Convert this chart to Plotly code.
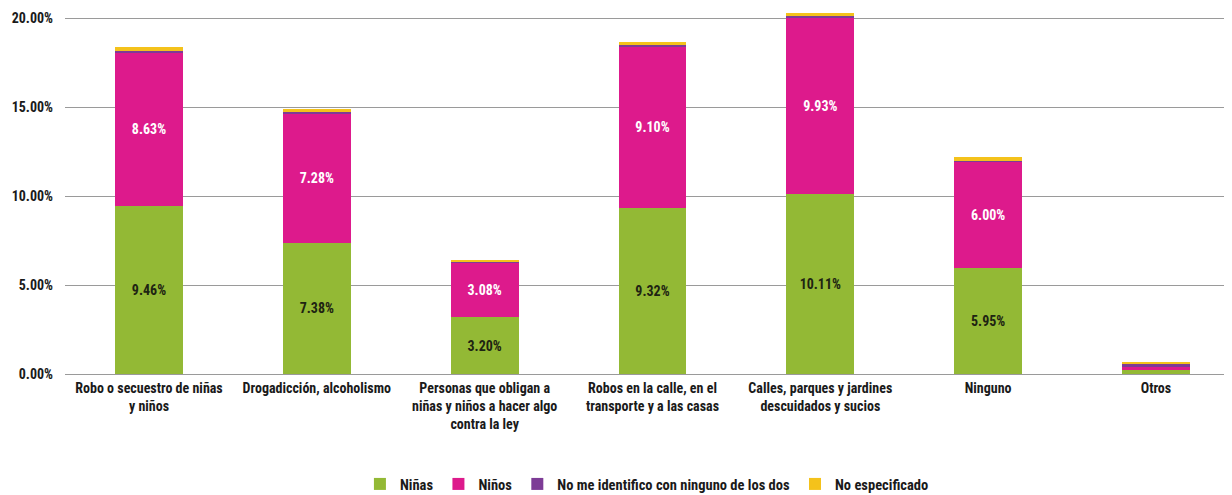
import plotly.graph_objects as go

categories = [
    "Robo o secuestro de niñas<br>y niños",
    "Drogadicción, alcoholismo",
    "Personas que obligan a<br>niñas y niños a hacer algo<br>contra la ley",
    "Robos en la calle, en el<br>transporte y a las casas",
    "Calles, parques y jardines<br>descuidados y sucios",
    "Ninguno",
    "Otros",
]
ninas = [9.46, 7.38, 3.20, 9.32, 10.11, 5.95, 0.22]
ninos = [8.63, 7.28, 3.08, 9.10, 9.93, 6.00, 0.22]
no_identifico = [0.08, 0.06, 0.03, 0.07, 0.08, 0.05, 0.10]
no_especificado = [0.22, 0.20, 0.10, 0.18, 0.20, 0.18, 0.14]

ninas_labels = [f"{v:.2f}%" for v in ninas[:-1]] + [""]
ninos_labels = [f"{v:.2f}%" for v in ninos[:-1]] + [""]

FONT = "Liberation Sans Narrow, Arial Narrow, Roboto Condensed, Liberation Sans, Arial, sans-serif"

# the page body adds an 8px offset; the figure is sized to fit the 1232x495 window
W, H = 1224, 487

fig = go.Figure()
fig.add_bar(x=categories, y=ninas, name="<b>Niñas</b>", marker_color="#93b935",
            text=ninas_labels, textposition="inside", insidetextanchor="middle",
            textfont=dict(color="#1e2412", size=14, family=FONT), texttemplate="<b>%{text}</b>")
fig.add_bar(x=categories, y=ninos, name="<b>Niños</b>", marker_color="#dd1a8c",
            text=ninos_labels, textposition="inside", insidetextanchor="middle",
            textfont=dict(color="white", size=14, family=FONT), texttemplate="<b>%{text}</b>")
fig.add_bar(x=categories, y=no_identifico, name="<b>No me identifico con ninguno de los dos</b>",
            marker_color="#7d3c96", textposition="none")
fig.add_bar(x=categories, y=no_especificado, name="<b>No especificado</b>",
            marker_color="#f4c21b", textposition="none")

fig.update_traces(marker_line_width=0, hoverinfo="skip")
fig.update_layout(
    barmode="stack",
    bargap=0.595,
    width=W, height=H,
    margin=dict(l=57, r=0, t=4, b=121, autoexpand=False),
    paper_bgcolor="white", plot_bgcolor="white",
    font=dict(family=FONT, size=14, color="#1a1a1a"),
    showlegend=True,
    legend=dict(orientation="h", x=0.522, xanchor="center", xref="container",
                y=11 / H, yanchor="middle", yref="container",
                font=dict(size=14.5, family=FONT), traceorder="normal",
                itemsizing="constant", itemwidth=30),
    uniformtext=dict(mode="show", minsize=8),
)
fig.update_yaxes(range=[0, 20.35], tickvals=[0, 5, 10, 15, 20],
                 ticktext=["<b>0.00%</b>", "<b>5.00%</b>", "<b>10.00%</b>", "<b>15.00%</b>", "<b>20.00%</b>"],
                 showgrid=True, gridcolor="#9a9a9a", gridwidth=1, zeroline=False,
                 showline=False, ticks="", ticklen=0, tickfont=dict(size=14, family=FONT),
                 automargin=False, ticklabelstandoff=11)
fig.update_xaxes(tickfont=dict(size=14, family=FONT), showline=True, linecolor="#9a9a9a",
                 ticks="", tickprefix="<b>", ticksuffix="</b>", automargin=False, tickangle=0,
                 range=[-0.5005, 6.453], ticklabelstandoff=1)

fig.write_html("out.html")
